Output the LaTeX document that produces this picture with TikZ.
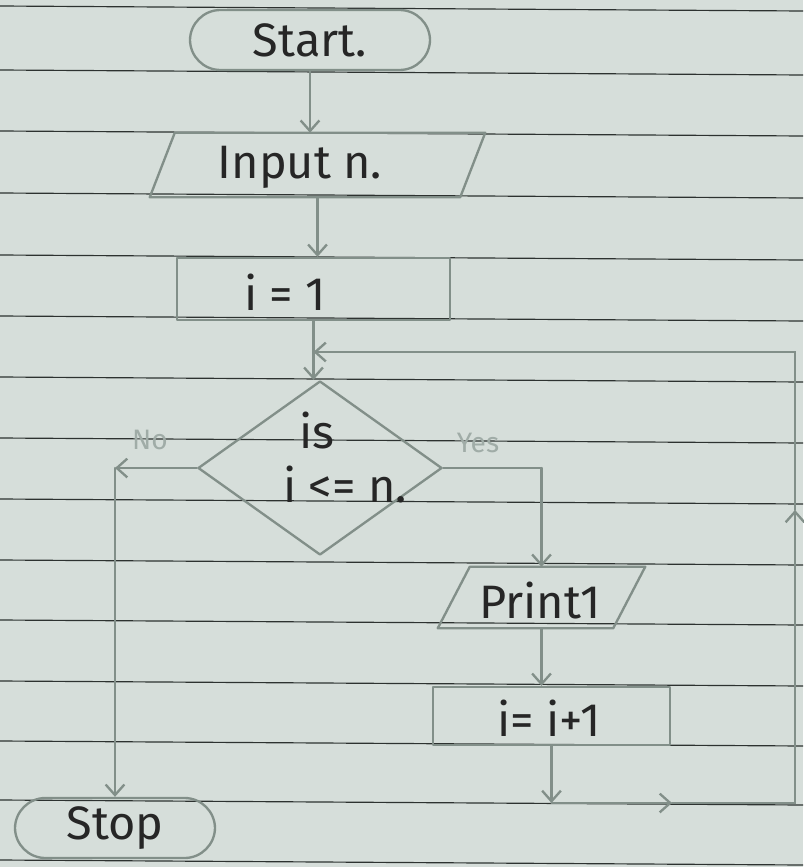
\documentclass[tikz,border=0pt]{standalone}
\usepackage{fontspec}
\setmainfont{Fira Sans}
\usetikzlibrary{shapes.geometric,arrows.meta}
\definecolor{paper}{RGB}{214,222,218}
\definecolor{pencil}{RGB}{130,143,137}
\definecolor{ruleclr}{RGB}{45,50,48}
\definecolor{faint}{RGB}{160,172,167}
\begin{document}
\begin{tikzpicture}[x=0.03cm,y=-0.03cm,
  flow/.style={draw=pencil,line width=2pt,line cap=round,line join=round},
  conn/.style={draw=pencil,line width=2pt,line cap=round,-{Straight Barb[length=9pt,width=16pt]}},
  txt/.style={font=\fontsize{40}{44}\selectfont,text=black!85},
  lbl/.style={font=\fontsize{24}{26}\selectfont,text=faint},
  ruleline/.style={draw=ruleclr,line width=1pt}]
\fill[paper] (0,0) rectangle (803,867);
\useasboundingbox (0,0) rectangle (803,867);
\foreach \a in {6,70,131,193,255,316,377,438,499,560,620,681,741,800,860}
  \draw[ruleline] (0,\a) -- (803,\a+5);

% nodes
\node[flow, txt, rounded corners=26pt, minimum width=7.2cm, minimum height=1.8cm] (start) at (310,40) {Start.};
\node[minimum width=10.05cm, minimum height=1.92cm, inner sep=0] (input) at (317.5,165) {};
\draw[flow] (input.south west) -- ([xshift=0.75cm]input.north west) -- (input.north east) -- ([xshift=-0.75cm]input.south east) -- cycle;
\node[txt] (inputtxt) at (300,167) {Input n.};
\node[flow, minimum width=8.19cm, minimum height=1.86cm] (i1) at (313.5,289) {};
\node[txt] (i1txt) at (285,292) {i = 1};
\node[flow, diamond, minimum width=7.32cm, minimum height=5.22cm, inner sep=0] (dec) at (320,468) {};
\node[txt] (dtop) at (317,430) {is};
\node[txt] (dbot) at (345,484) {i <= n.};
\node[flow, txt, rounded corners=26pt, minimum width=6cm, minimum height=1.8cm] (stop) at (115,828) {Stop};
\node[minimum width=6.21cm, minimum height=1.83cm, inner sep=0] (print) at (541.5,597.5) {};
\draw[flow] (print.south west) -- ([xshift=0.96cm]print.north west) -- (print.north east) -- ([xshift=-0.96cm]print.south east) -- cycle;
\node[txt] (printtxt) at (540,600) {Print1};
\node[flow, minimum width=7.11cm, minimum height=1.74cm] (inc) at (551.5,716) {};
\node[txt] (inctxt) at (549,718) {i= i+1};
\node[lbl] (nolbl) at (150,440) {No};
\node[lbl] (yeslbl) at (478,443) {Yes};

% connectors
\draw[conn] (start.south) -- (start.south |- input.north);
\draw[conn] (input.south) -- (input.south |- i1.north);
\draw[conn] (i1.south) -- (i1.south |- dec.north);
\coordinate (noc) at (dec.west -| stop.north);
\draw[conn] (dec.west) -- (noc);
\draw[conn] (noc) -- (stop.north);
\coordinate (yesc) at (dec.east -| print.north);
\draw[flow] (dec.east) -- (yesc);
\draw[conn] (yesc) -- (print.north);
\draw[conn] (print.south) -- (print.south |- inc.north);
\coordinate (c1) at (inc.south |- 0,803);
\coordinate (cm1) at (672,803);
\coordinate (c2) at (795,803);
\coordinate (cm2) at (795,510);
\coordinate (c3) at (795,352);
\coordinate (c4) at (i1.south |- c3);
\draw[conn] (inc.south) -- (c1);
\draw[conn] (c1) -- (cm1);
\draw[conn] (cm1) -- (c2) -- (cm2);
\draw[conn] (cm2) -- (c3) -- (c4);
\end{tikzpicture}
\end{document}
